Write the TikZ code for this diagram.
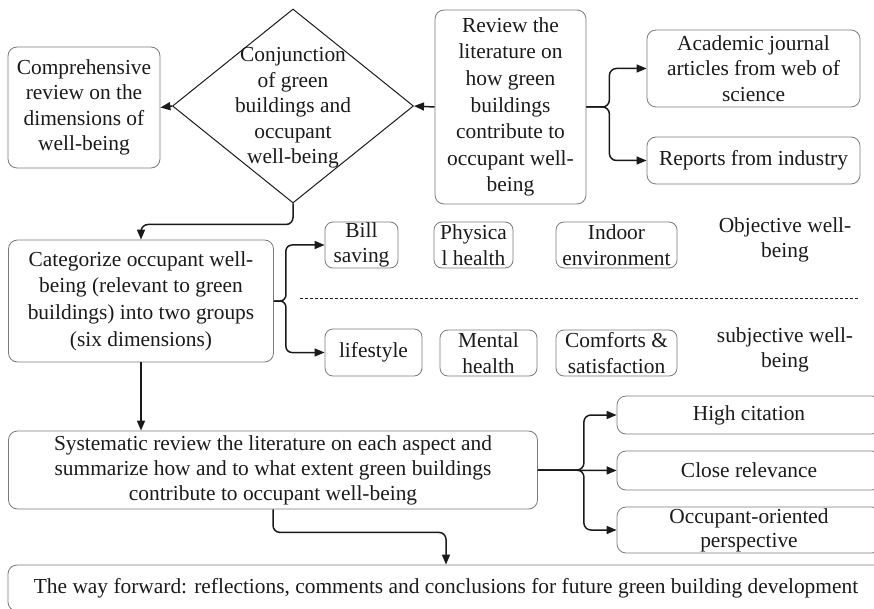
\documentclass[tikz,border=0pt]{standalone}
\usepackage{fontspec}
\setmainfont{Liberation Serif}
\usetikzlibrary{arrows.meta,shapes.geometric}
\definecolor{boxgray}{HTML}{7A7A7A}
\definecolor{ink}{HTML}{1A1A1A}
\begin{document}
\begin{tikzpicture}[x=1pt,y=-1pt,
  txt/.style={font=\fontsize{21.4}{25.5}\selectfont, text=ink, align=center, inner sep=0pt},
  box/.style={txt, draw=boxgray, line width=0.8pt, rounded corners=9pt},
  conn/.style={draw=ink, line width=1.5pt, -{Triangle[length=10pt,width=8pt]}}]
\useasboundingbox (0,0) rectangle (874,609);
\clip (0,0) rectangle (874,609);

% top row
\node[box, minimum width=152pt, minimum height=121pt] (comp) at (84,107.5)
  {Comprehensive\\review on the\\dimensions of\\well-being};
\node[draw=ink, line width=1pt, shape=diamond, minimum width=241pt, minimum height=194pt, inner sep=0pt] (conj) at (293,106) {};
\node[txt] (conjtext) at (293,108) {Conjunction\\of green\\buildings and\\occupant\\well-being};
\node[box, minimum width=151pt, minimum height=194pt, font=\fontsize{21.4}{26.6}\selectfont] (review) at (510.5,107)
  {Review the\\literature on\\how green\\buildings\\contribute to\\occupant well-\\being};
\node[box, minimum width=213pt, minimum height=77pt] (acad) at (753.5,68.5)
  {Academic journal\\articles from web of\\science};
\node[box, minimum width=213pt, minimum height=47pt] (reports) at (753.5,160.5)
  {Reports from industry};

% categories
\node[box, minimum width=265pt, minimum height=122pt, font=\fontsize{21.4}{26.6}\selectfont] (categ) at (141,301)
  {Categorize occupant well-\\being (relevant to green\\buildings) into two groups\\(six dimensions)};
\node[box, minimum width=73pt, minimum height=46pt, rounded corners=8pt] (bill) at (361.5,245) {Bill\\saving};
\node[box, minimum width=79pt, minimum height=46pt, rounded corners=8pt] (phys) at (473.5,245) {Physica\\l health};
\node[box, minimum width=121pt, minimum height=46pt, rounded corners=8pt] (indoor) at (616.5,245) {Indoor\\environment};
\node[txt] (objective) at (785,240) {Objective well-\\being};
\coordinate (dashL) at (300,298);
\coordinate (dashR) at (858,298);
\draw[ink, line width=0.9pt, dash pattern=on 3pt off 2pt] (dashL) -- (dashR);
\node[box, minimum width=97pt, minimum height=47pt, rounded corners=8pt] (lifestyle) at (373.5,352.5) {lifestyle};
\node[box, minimum width=97pt, minimum height=46pt, rounded corners=8pt] (mental) at (488.5,353) {Mental\\health};
\node[box, minimum width=121pt, minimum height=46pt, rounded corners=8pt] (comforts) at (616.5,353) {Comforts \&\\satisfaction};
\node[txt] (subjective) at (785,350) {subjective well-\\being};

% review stage
\node[box, minimum width=529pt, minimum height=78pt, font=\fontsize{21.4}{25}\selectfont] (syst) at (273,470)
  {Systematic review the literature on each aspect and\\summarize how and to what extent green buildings\\contribute to occupant well-being};
\node[box, minimum width=264pt, minimum height=38pt] (high) at (749,415) {High citation};
\node[box, minimum width=264pt, minimum height=39pt] (close) at (749,470.5) {Close relevance};
\node[box, minimum width=264pt, minimum height=46pt, font=\fontsize{21.4}{24}\selectfont] (occ) at (749,530) {Occupant-oriented\\perspective};
\node[box, minimum width=876pt, minimum height=46pt] (way) at (446,588)
  {The way forward: reflections, comments and conclusions for future green building development};

% connectors
\draw[conn] (review.west) -- (conj.east);
\draw[conn] (conj.west) -- (comp.east);
\draw[conn, rounded corners=7pt] (review.east) -- ++(23,0) |- (acad.west);
\draw[conn, rounded corners=7pt] (review.east) -- ++(23,0) |- (reports.west);
\draw[conn, rounded corners=7pt] (conj.south) -- ++(0,21) -| (categ.north);
\draw[conn, rounded corners=6pt] (categ.east) -- ++(12,0) |- (bill.west);
\draw[conn, rounded corners=6pt] (categ.east) -- ++(12,0) |- (lifestyle.west);
\draw[conn] (categ.south) -- (categ.south |- syst.north);
\draw[conn, rounded corners=7pt] (syst.east) -- ++(46,0) |- (high.west);
\draw[conn] (syst.east) -- (close.west);
\draw[conn, rounded corners=7pt] (syst.east) -- ++(46,0) |- (occ.west);
\draw[conn, rounded corners=7pt] (syst.south) -- ++(0,23) -| (way.north);
\end{tikzpicture}
\end{document}
